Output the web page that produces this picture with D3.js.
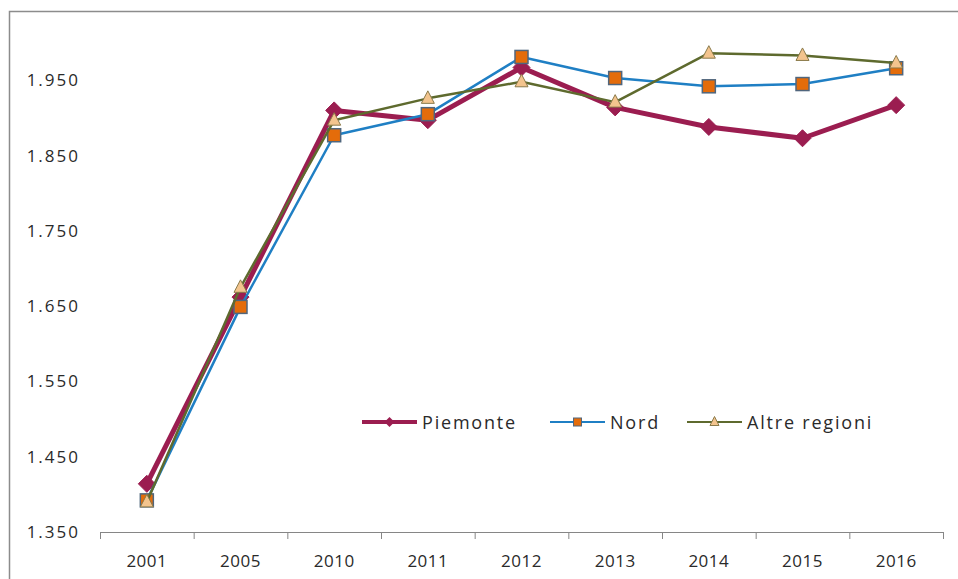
<!DOCTYPE html>
<html>
<head>
<meta charset="utf-8">
<script src="https://cdn.jsdelivr.net/npm/d3@7/dist/d3.min.js"></script>
<style>
  html, body { margin: 0; padding: 0; background: #fff; }
  svg { display: block; }
  text { font-family: "Open Sans", "DejaVu Sans", sans-serif; fill: #2a2a2a; }
</style>
</head>
<body>
<svg id="chart" width="958" height="579"></svg>
<script>
// Years on the horizontal axis
const years = ["2001", "2005", "2010", "2011", "2012", "2013", "2014", "2015", "2016"];
// Series values
const piemonte = [1414, 1662, 1910, 1897, 1967, 1914, 1888, 1873, 1917];
const nord     = [1392, 1649, 1877, 1905, 1981, 1953, 1942, 1945, 1966];
const altre    = [1390, 1675, 1897, 1926, 1948, 1921, 1986, 1983, 1973];
// Vertical tick values
const yTicks = [1350, 1450, 1550, 1650, 1750, 1850, 1950];
const seriesNames = ["Piemonte", "Nord", "Altre regioni"];

const svg = d3.select("#chart");
const W = 958, H = 579;

// outer frame (cut off at right and bottom)
svg.append("rect")
  .attr("x", 9.5).attr("y", 11.5)
  .attr("width", W + 20).attr("height", H + 20)
  .attr("fill", "#fff").attr("stroke", "#8c8c8c").attr("stroke-width", 1.5);

const x = d3.scaleBand().domain(years).range([100, 943]).padding(0);
const y = d3.scaleLinear().domain([1350, 2050]).range([532, 5]);

const it = d3.formatLocale({ decimal: ",", thousands: ".", grouping: [3], currency: ["€", ""] });
const fmt = it.format(",d");

// x axis
const xAxis = svg.append("g").attr("transform", "translate(0,532)");
xAxis.append("line").attr("x1", 100).attr("x2", 943).attr("y1", 0.5).attr("y2", 0.5)
  .attr("stroke", "#868686").attr("stroke-width", 1);
const bounds = years.map(d => x(d)).concat([x(years[years.length - 1]) + x.bandwidth()]);
xAxis.selectAll("line.tick").data(bounds).join("line")
  .attr("class", "tick")
  .attr("x1", d => d + 0.5).attr("x2", d => d + 0.5)
  .attr("y1", 0).attr("y2", 7)
  .attr("stroke", "#868686");
xAxis.selectAll("text").data(years).join("text")
  .attr("x", d => x(d) + x.bandwidth() / 2)
  .attr("y", 35)
  .attr("text-anchor", "middle")
  .attr("font-size", 17)
  .attr("letter-spacing", 0.5)
  .text(d => d);

// y labels
svg.append("g").selectAll("text").data(yTicks).join("text")
  .attr("x", 80)
  .attr("y", d => y(d) + 6)
  .attr("text-anchor", "end")
  .attr("font-size", 17)
  .attr("letter-spacing", 2)
  .text(d => fmt(d));

const cx = d => x(d) + x.bandwidth() / 2;
const line = d3.line().x((d, i) => cx(years[i])).y(d => y(d));

const styles = [
  { name: seriesNames[0], data: piemonte, color: "#9b1d50", width: 5, marker: "diamond" },
  { name: seriesNames[1], data: nord, color: "#1f7fc4", width: 2.5, marker: "square" },
  { name: seriesNames[2], data: altre, color: "#5e6a2e", width: 2.5, marker: "triangle" }
];

function drawMarker(g, kind, px, py, s) {
  if (kind === "diamond") {
    g.append("path")
      .attr("d", `M${px},${py - 8.5}L${px + 8.5},${py}L${px},${py + 8.5}L${px - 8.5},${py}Z`)
      .attr("fill", s.color).attr("stroke", s.color).attr("stroke-width", 1);
  } else if (kind === "square") {
    g.append("rect")
      .attr("x", px - 6.5).attr("y", py - 6.5).attr("width", 13).attr("height", 13)
      .attr("fill", "#e46c0a").attr("stroke", "#50667d").attr("stroke-width", 1.5);
  } else {
    g.append("path")
      .attr("d", `M${px},${py - 7.5}L${px + 6.5},${py + 5}L${px - 6.5},${py + 5}Z`)
      .attr("fill", "#f3c48e").attr("stroke", "#8a7a4a").attr("stroke-width", 1);
  }
}

styles.forEach(s => {
  const g = svg.append("g");
  g.append("path").datum(s.data)
    .attr("d", line)
    .attr("fill", "none")
    .attr("stroke", s.color)
    .attr("stroke-width", s.width)
    .attr("stroke-linejoin", "round");
  s.data.forEach((v, i) => drawMarker(g, s.marker, cx(years[i]), y(v), s));
});

// legend
const legendX = [362, 550, 687];
styles.forEach((s, i) => {
  const g = svg.append("g").attr("transform", `translate(${legendX[i]},422)`);
  g.append("line").attr("x1", 0).attr("x2", 55).attr("y1", 0).attr("y2", 0)
    .attr("stroke", s.color).attr("stroke-width", s.width * 0.8);
  if (s.marker === "diamond") {
    g.append("path").attr("d", "M27.5,-5L32.5,0L27.5,5L22.5,0Z").attr("fill", s.color);
  } else if (s.marker === "square") {
    g.append("rect").attr("x", 23.5).attr("y", -4).attr("width", 8).attr("height", 8)
      .attr("fill", "#e46c0a").attr("stroke", "#50667d").attr("stroke-width", 1);
  } else {
    g.append("path").attr("d", "M27.5,-5.5L32,3.5L23,3.5Z")
      .attr("fill", "#f3c48e").attr("stroke", "#8a7a4a").attr("stroke-width", 1);
  }
  g.append("text").attr("x", 60).attr("y", 6.5).attr("font-size", 18)
    .attr("letter-spacing", 1.8).text(s.name);
});
</script>
</body>
</html>
